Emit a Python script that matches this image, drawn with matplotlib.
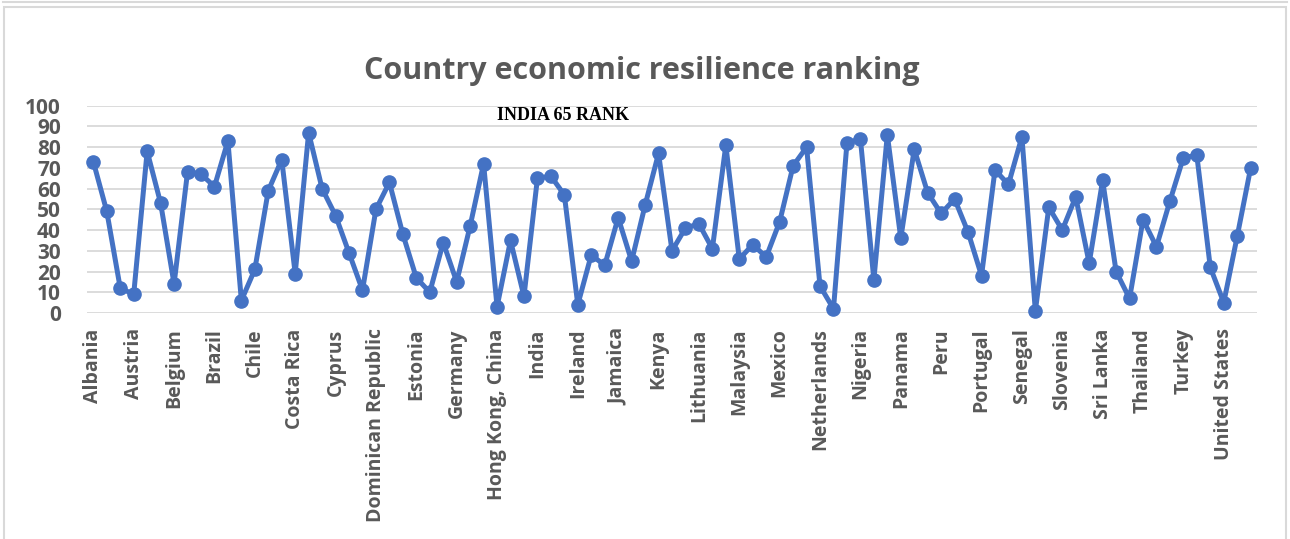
import matplotlib
matplotlib.use("Agg")
import matplotlib.pyplot as plt
from matplotlib.patches import Rectangle
from matplotlib.lines import Line2D

countries = [
    "Albania", "Algeria", "Argentina", "Austria", "Azerbaijan", "Bangladesh",
    "Belgium", "Bolivia", "Botswana", "Brazil", "Bulgaria", "Canada",
    "Chile", "China", "Colombia", "Costa Rica", "Croatia", "Cuba",
    "Cyprus", "Czech Republic", "Denmark", "Dominican Republic", "Ecuador", "Egypt",
    "Estonia", "Finland", "France", "Germany", "Ghana", "Greece",
    "Hong Kong, China", "Hungary", "Iceland", "India", "Indonesia", "Iran",
    "Ireland", "Israel", "Italy", "Jamaica", "Japan", "Jordan",
    "Kenya", "Korea, Rep.", "Latvia", "Lithuania", "Luxembourg", "Malawi",
    "Malaysia", "Malta", "Mauritius", "Mexico", "Morocco", "Namibia",
    "Netherlands", "New Zealand", "Nicaragua", "Nigeria", "Norway", "Pakistan",
    "Panama", "Papua New Guinea", "Paraguay", "Peru", "Philippines", "Poland",
    "Portugal", "Romania", "Russia", "Senegal", "Singapore", "Slovakia",
    "Slovenia", "South Africa", "Spain", "Sri Lanka", "Sweden", "Switzerland",
    "Thailand", "Trinidad and Tobago", "Tunisia", "Turkey", "Uganda", "United Kingdom",
    "United States", "Uruguay", "Vietnam",
]

ranks = [
    73, 49, 12, 9, 78, 53, 14, 68, 67, 61, 83, 6, 21, 59, 74, 19, 87, 60,
    47, 29, 11, 50, 63, 38, 17, 10, 34, 15, 42, 72, 3, 35, 8, 65, 66, 57,
    4, 28, 23, 46, 25, 52, 77, 30, 41, 43, 31, 81, 26, 33, 27, 44, 71, 80,
    13, 2, 82, 84, 16, 86, 36, 79, 58, 48, 55, 39, 18, 69, 62, 85, 1, 51,
    40, 56, 24, 64, 20, 7, 45, 32, 54, 75, 76, 22, 5, 37, 70,
]

title = "Country economic resilience ranking"
annotation = "INDIA 65 RANK"
yticks = [0, 10, 20, 30, 40, 50, 60, 70, 80, 90, 100]
label_step = 3

W, H = 1290, 539
fig = plt.figure(figsize=(W / 100, H / 100), dpi=100)

# outer frames
fig.add_artist(Rectangle((4 / W, -0.05), (1286 - 4) / W, 1 - 6.5 / H + 0.05,
                         transform=fig.transFigure, fill=False,
                         edgecolor="#d9d9d9", linewidth=1.5))
fig.add_artist(Line2D([3 / W, 1287 / W], [1 - 2 / H, 1 - 2 / H],
                      transform=fig.transFigure, color="#d9d9d9", linewidth=1.5))

left, right = 86.6, 1257.4
top, bottom = 105.7, 313.0
ax = fig.add_axes([left / W, 1 - bottom / H, (right - left) / W, (bottom - top) / H])

x = list(range(len(ranks)))
ax.plot(x, ranks, color="#4472C4", linewidth=3.6, marker="o", markersize=9.5,
        clip_on=False, zorder=3)

ax.set_xlim(-0.5, len(ranks) - 0.5)
ax.set_ylim(0, 100)
ax.set_yticks(yticks)
ax.set_yticklabels([str(v) for v in yticks])
ax.set_xticks(x[::label_step])
ax.set_xticklabels(countries[::label_step], rotation=90)

ax.grid(axis="y", color="#d9d9d9", linewidth=1.3, zorder=0)
ax.set_axisbelow(True)
for s in ax.spines.values():
    s.set_visible(False)

ax.tick_params(axis="y", length=0, pad=18.5, labelsize=15, labelcolor="#595959")
ax.tick_params(axis="x", length=0, pad=11, labelsize=14, labelcolor="#595959")
for lbl in ax.get_yticklabels() + ax.get_xticklabels():
    lbl.set_fontfamily("Open Sans")
    lbl.set_fontweight("bold")

ax.text(34.9, 95.5, annotation, ha="center", va="center", fontsize=13,
        fontfamily="Liberation Serif", fontweight="bold", color="black")

fig.text(642 / W, 1 - 71 / H, title, ha="center", va="center", fontsize=22,
         fontfamily="Open Sans", fontweight="bold", color="#595959")

fig.savefig("out.png", dpi=100, facecolor="white")
